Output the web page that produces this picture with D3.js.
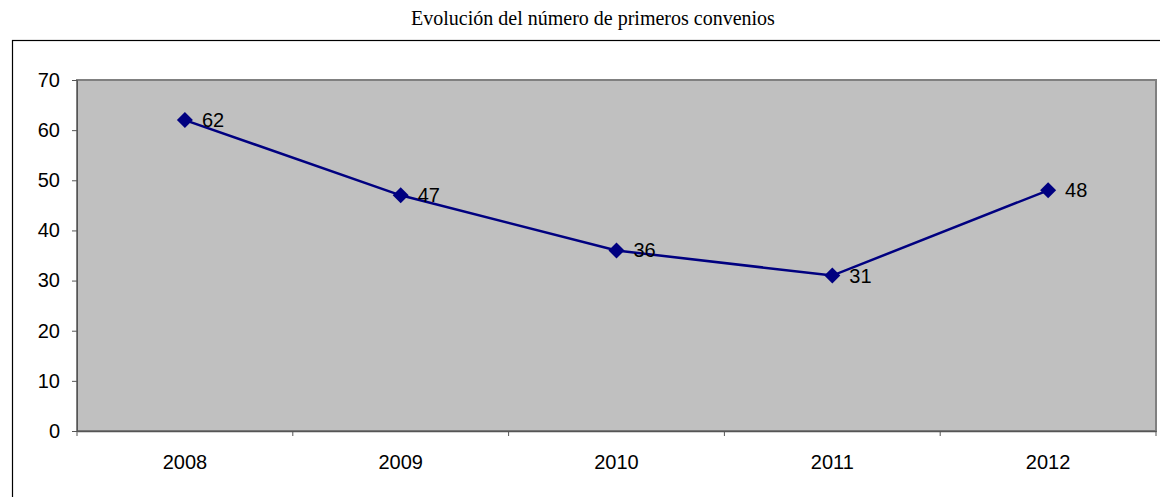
<!DOCTYPE html>
<html>
<head>
<meta charset="utf-8">
<script src="https://cdn.jsdelivr.net/npm/d3@7"></script>
<style>
  body { margin: 0; background: #fff; }
  svg { display: block; }
</style>
</head>
<body>
<svg id="chart" width="1160" height="497"></svg>
<script>
const title = "Evolución del número de primeros convenios";
const years = ["2008", "2009", "2010", "2011", "2012"];
const values = [62, 47, 36, 31, 48];
const yTicks = [0, 10, 20, 30, 40, 50, 60, 70];

const svg = d3.select("#chart");
const plot = { left: 77, right: 1156, top: 80, bottom: 431 };
const sans = "'Liberation Sans', Arial, sans-serif";

// outer frame
svg.append("rect")
  .attr("x", 12.5).attr("y", 40.5)
  .attr("width", 1160).attr("height", 470)
  .attr("fill", "#fff").attr("stroke", "#000").attr("stroke-width", 1.2);

svg.append("text")
  .attr("x", 593).attr("y", 25)
  .attr("text-anchor", "middle")
  .attr("font-family", "'Liberation Serif', 'Times New Roman', serif")
  .attr("font-size", "20px")
  .text(title);

const x = d3.scaleBand().domain(years).range([plot.left, plot.right]);
const y = d3.scaleLinear().domain([0, 70]).range([plot.bottom, plot.top]);

// plot area
svg.append("rect")
  .attr("x", plot.left).attr("y", plot.top)
  .attr("width", plot.right - plot.left).attr("height", plot.bottom - plot.top)
  .attr("fill", "#c0c0c0").attr("stroke", "#808080").attr("stroke-width", 2);

// y axis
const yAxis = svg.append("g")
  .attr("transform", `translate(${plot.left},0)`)
  .call(d3.axisLeft(y).tickValues(yTicks).tickSize(5).tickPadding(12));
yAxis.select(".domain").attr("stroke", "#555");
yAxis.selectAll(".tick line").attr("stroke", "#555");
yAxis.selectAll("text")
  .attr("font-family", sans)
  .attr("font-size", "20px").attr("fill", "#000");

// x axis: ticks at category boundaries
const xAxis = svg.append("g")
  .attr("transform", `translate(0,${plot.bottom})`)
  .call(d3.axisBottom(x).tickSize(0).tickPadding(24));
xAxis.select(".domain").attr("stroke", "#555").attr("stroke-width", 1.5);
xAxis.selectAll("text")
  .attr("font-family", sans)
  .attr("font-size", "20px").attr("fill", "#000");
xAxis.selectAll(".bound")
  .data(years.map(d => x(d)).concat([plot.right]))
  .enter().append("line")
  .attr("x1", d => d).attr("x2", d => d)
  .attr("y1", 0).attr("y2", 5)
  .attr("stroke", "#555");

const cx = d => x(d) + x.bandwidth() / 2;
const pts = years.map((yr, i) => ({ yr, v: values[i] }));

svg.append("path")
  .datum(pts)
  .attr("fill", "none")
  .attr("stroke", "#000080")
  .attr("stroke-width", 2.5)
  .attr("d", d3.line().x(d => cx(d.yr)).y(d => y(d.v)));

svg.selectAll(".marker")
  .data(pts).enter().append("path")
  .attr("class", "marker")
  .attr("transform", d => `translate(${cx(d.yr)},${y(d.v)})`)
  .attr("d", "M0,-8L8,0L0,8L-8,0Z")
  .attr("fill", "#000080");

svg.selectAll(".lbl")
  .data(pts).enter().append("text")
  .attr("class", "lbl")
  .attr("x", d => cx(d.yr) + 17)
  .attr("y", d => y(d.v))
  .attr("dy", "0.35em")
  .attr("font-family", sans)
  .attr("font-size", "20px")
  .text(d => d.v);
</script>
</body>
</html>
